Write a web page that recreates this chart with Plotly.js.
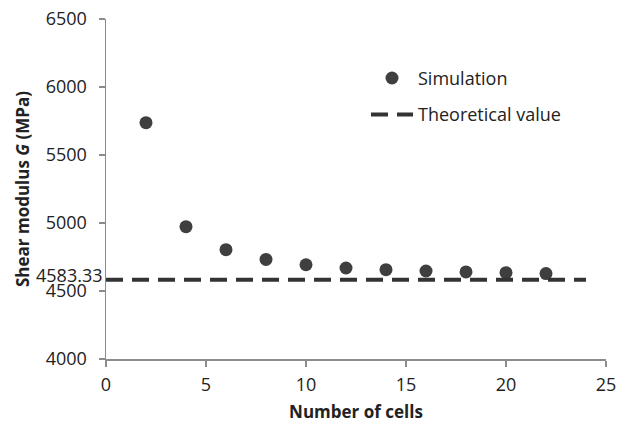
<!DOCTYPE html>
<html>
<head>
<meta charset="utf-8">
<script src="https://cdn.plot.ly/plotly-3.0.1.min.js"></script>
<style>html,body{margin:0;padding:0;background:#fff;}#chart{width:618px;height:423px;}</style>
</head>
<body>
<div id="chart"></div>
<script>
// Data
var cells = [2, 4, 6, 8, 10, 12, 14, 16, 18, 20, 22];
var simulatedG = [5738, 4973, 4804, 4732, 4693, 4669, 4657, 4647, 4640, 4635, 4628];
var theoryX = [0, 24];
var theoryG = [4583.33, 4583.33];
var theoryLabel = "4583.33";
var xTicks = [0, 5, 10, 15, 20, 25];
var yTicks = [4000, 4500, 5000, 5500, 6000, 6500];

var FONT = "Open Sans, sans-serif";
var AXIS_COLOR = "#8c8c8c";
var TEXT_COLOR = "#222222";

var traces = [
  {
    x: cells, y: simulatedG, type: "scatter", mode: "markers", name: "Simulation",
    legendgroup: "a",
    marker: {size: 13, color: "#3f3f3f"}
  },
  {
    x: theoryX, y: theoryG, type: "scatter", mode: "lines", name: "Theoretical value",
    legendgroup: "b",
    line: {color: "#333333", width: 4, dash: "17px,9px"}
  }
];

var layout = {
  width: 618, height: 423,
  margin: {l: 106, r: 12, t: 19, b: 64},
  paper_bgcolor: "#ffffff", plot_bgcolor: "#ffffff",
  font: {family: FONT, size: 18, color: TEXT_COLOR},
  showlegend: true,
  legend: {
    x: 0.52, y: 0.88, xanchor: "left", yanchor: "top",
    bgcolor: "rgba(0,0,0,0)", tracegroupgap: 10, itemwidth: 42,
    font: {family: FONT, size: 18, color: TEXT_COLOR}
  },
  xaxis: {
    range: [0, 25], tickvals: xTicks, ticktext: xTicks.map(String),
    showline: true, linecolor: AXIS_COLOR, linewidth: 1.5,
    ticks: "outside", ticklen: 6, tickcolor: AXIS_COLOR, tickwidth: 1.5,
    ticklabelstandoff: 3,
    showgrid: false, zeroline: false, automargin: false,
    tickfont: {family: FONT, size: 18, color: TEXT_COLOR},
    title: {text: "<b>Number of cells</b>", font: {family: FONT, size: 17, color: TEXT_COLOR}, standoff: 12}
  },
  yaxis: {
    range: [4000, 6500], tickvals: yTicks, ticktext: yTicks.map(String),
    showline: true, linecolor: AXIS_COLOR, linewidth: 1.5,
    ticks: "outside", ticklen: 6, tickcolor: AXIS_COLOR, tickwidth: 1.5,
    ticklabelstandoff: 8,
    showgrid: false, zeroline: false, automargin: false,
    tickfont: {family: FONT, size: 18, color: TEXT_COLOR},
    title: {text: "<b>Shear modulus <i>G</i> (MPa)</b>", font: {family: FONT, size: 17, color: TEXT_COLOR}, standoff: 12}
  },
  annotations: [
    {
      x: 0, y: theoryG[0], xref: "x", yref: "y", text: theoryLabel, showarrow: false,
      xanchor: "right", yanchor: "middle", xshift: -2, yshift: 5,
      font: {family: FONT, size: 18, color: TEXT_COLOR}
    }
  ]
};

Plotly.newPlot("chart", traces, layout, {displayModeBar: false, staticPlot: true});
</script>
</body>
</html>
